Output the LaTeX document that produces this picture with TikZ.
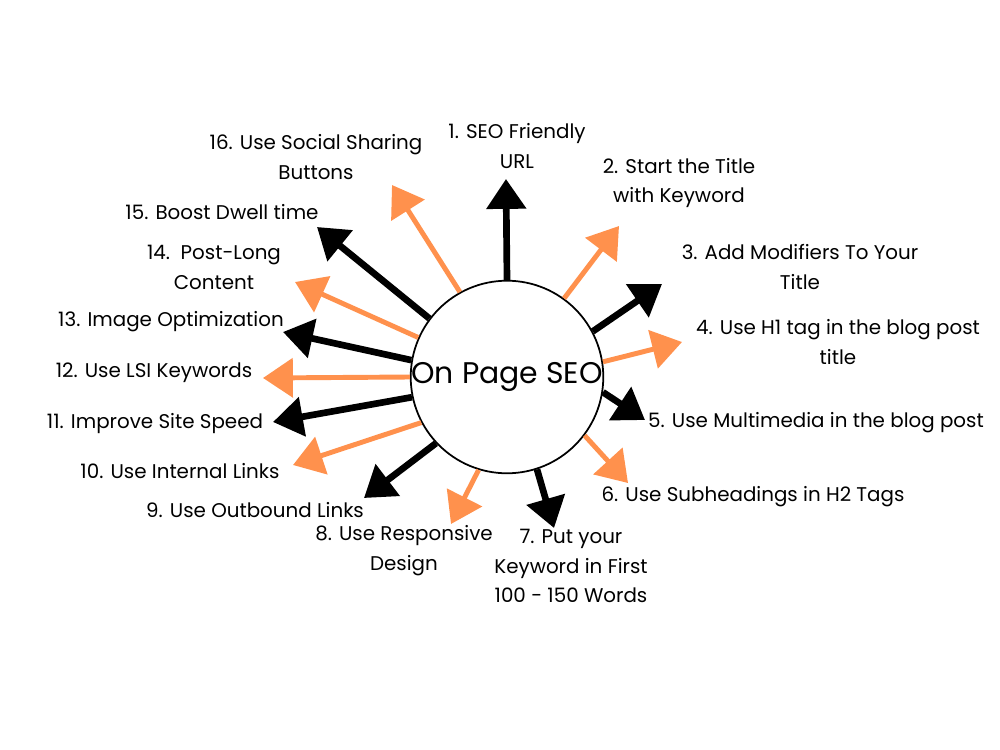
\documentclass[tikz,border=0pt]{standalone}
\usepackage{fontspec}
\setmainfont{Poppins}
\usetikzlibrary{arrows.meta}
\definecolor{seoorange}{HTML}{FF914D}

\begin{document}
\begin{tikzpicture}[
    x=0.02cm, y=-0.02cm,
    black arrow/.style={
      line width=3.8pt,
      -{Triangle[length=17pt,width=22pt]},
    },
    orange arrow/.style={
      black arrow,
      seoorange,
      line width=2.8pt,
    },
    item text/.style={
      align=center,
      inner sep=0pt,
      font=\fontsize{11.3}{17}\selectfont,
    }]
    \useasboundingbox[fill=white] (0,0) rectangle (1000,750);
    % hub
    \node[draw, circle, line width=1pt, minimum size=3.8cm, inner sep=0pt,
      font=\fontsize{17}{19}\selectfont] (seo) at (507,377) {On Page SEO};
    % arrow tips
    \coordinate (t1) at (506,179);
    \coordinate (t2) at (619,226);
    \coordinate (t3) at (662,284);
    \coordinate (t4) at (682,342);
    \coordinate (t5) at (645,420);
    \coordinate (t6) at (628,483);
    \coordinate (t7) at (554,528);
    \coordinate (t8) at (451,524);
    \coordinate (t9) at (364,498);
    \coordinate (t10) at (293,465);
    \coordinate (t11) at (273,422);
    \coordinate (t12) at (263,378);
    \coordinate (t13) at (283,332);
    \coordinate (t14) at (295,282);
    \coordinate (t15) at (317,227);
    \coordinate (t16) at (392,185);
    \draw[black arrow] (seo.90) -- (t1);
    \draw[orange arrow] (seo.54) -- (t2);
    \draw[black arrow] (seo.28) -- (t3);
    \draw[orange arrow] (seo.9) -- (t4);
    \draw[black arrow] (seo.-9) -- (t5);
    \draw[orange arrow] (seo.-37) -- (t6);
    \draw[black arrow] (seo.-72) -- (t7);
    \draw[orange arrow] (seo.-107) -- (t8);
    \draw[black arrow] (seo.-137) -- (t9);
    \draw[orange arrow] (seo.-152) -- (t10);
    \draw[black arrow] (seo.-168) -- (t11);
    \draw[orange arrow] (seo.180) -- (t12);
    \draw[black arrow] (seo.170) -- (t13);
    \draw[orange arrow] (seo.156) -- (t14);
    \draw[black arrow] (seo.143) -- (t15);
    \draw[orange arrow] (seo.119) -- (t16);
    % labels
    \node[item text] (l1) at (517,146) {1. SEO Friendly\\URL};
    \node[item text] (l2) at (679,183) {2. Start the Title\\with Keyword};
    \node[item text] (l3) at (800,267) {3. Add Modifiers To Your\\Title};
    \node[item text] (l4) at (838,342) {4. Use H1 tag in the blog post\\title};
    \node[item text] (l5) at (816,423) {5. Use Multimedia in the blog post};
    \node[item text] (l6) at (753,497) {6. Use Subheadings in H2 Tags};
    \node[item text] (l7) at (571,566) {7. Put your\\Keyword in First\\100 - 150 Words};
    \node[item text] (l8) at (404,551) {8. Use Responsive\\Design};
    \node[item text] (l9) at (255,510) {9. Use Outbound Links};
    \node[item text] (l10) at (180,471) {10. Use Internal Links};
    \node[item text] (l11) at (155,424) {11. Improve Site Speed};
    \node[item text] (l12) at (154,373) {12. Use LSI Keywords};
    \node[item text] (l13) at (171,322) {13. Image Optimization};
    \node[item text] (l14) at (214,267) {14.\ \ Post-Long\\Content};
    \node[item text] (l15) at (222,212) {15. Boost Dwell time};
    \node[item text] (l16) at (316,157) {16. Use Social Sharing\\Buttons};
  \end{tikzpicture}
\end{document}
